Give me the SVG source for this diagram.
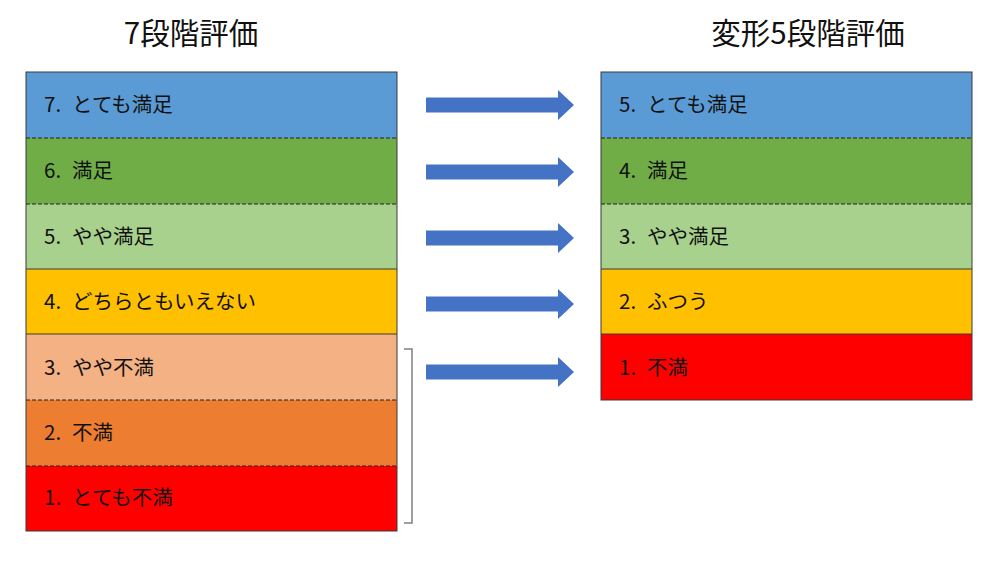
<svg xmlns="http://www.w3.org/2000/svg" width="1000" height="563" viewBox="0 0 1000 563">
<style>
.t{font-family:"Noto Sans CJK JP","Noto Sans",sans-serif;font-size:20.5px;fill:#111}
.h{font-family:"Noto Sans CJK JP","Noto Sans",sans-serif;font-size:29.5px;fill:#111}
.s{stroke:#3a3a3a;stroke-width:1}
.d{stroke:#222;stroke-width:1;stroke-dasharray:4 2}
.a{fill:#4472C4}
</style>
<defs>
<path id="arr" d="M0,-7.5 H132 V-15 L148,0 L132,15 V7.5 H0 Z"/>
</defs>
<rect width="1000" height="563" fill="#fff"/>
<text class="h" x="191" y="44" text-anchor="middle">7段階評価</text>
<text class="h" x="808" y="44" text-anchor="middle">変形5段階評価</text>

<g id="left7">
<g id="l7"><rect x="26" y="72" width="371" height="66" fill="#5B9BD5"/><text class="t" x="44" y="112">7. <tspan x="72">とても満足</tspan></text></g>
<g id="l6"><rect x="26" y="138" width="371" height="66" fill="#70AD47"/><text class="t" x="44" y="178">6. <tspan x="72">満足</tspan></text></g>
<g id="l5"><rect x="26" y="204" width="371" height="65" fill="#A9D18E"/><text class="t" x="44" y="244">5. <tspan x="72">やや満足</tspan></text></g>
<g id="l4"><rect x="26" y="269" width="371" height="65" fill="#FFC000"/><text class="t" x="44" y="309">4. <tspan x="72">どちらともいえない</tspan></text></g>
<g id="l3"><rect x="26" y="334" width="371" height="66" fill="#F4B183"/><text class="t" x="44" y="375">3. <tspan x="72">やや不満</tspan></text></g>
<g id="l2"><rect x="26" y="400" width="371" height="66" fill="#ED7D31"/><text class="t" x="44" y="440">2. <tspan x="72">不満</tspan></text></g>
<g id="l1"><rect x="26" y="466" width="371" height="65" fill="#FF0000"/><text class="t" x="44" y="505">1. <tspan x="72">とても不満</tspan></text></g>
<rect x="26" y="72" width="371" height="459" fill="none" class="s"/>
<line x1="26" y1="138" x2="397" y2="138" class="d"/>
<line x1="26" y1="204" x2="397" y2="204" class="d"/>
<line x1="26" y1="269" x2="397" y2="269" class="s"/>
<line x1="26" y1="334" x2="397" y2="334" class="s"/>
<line x1="26" y1="400" x2="397" y2="400" class="d"/>
<line x1="26" y1="466" x2="397" y2="466" class="d"/>
</g>

<g id="right5">
<g id="r5"><rect x="601" y="72" width="371" height="66" fill="#5B9BD5"/><text class="t" x="619" y="112">5. <tspan x="647">とても満足</tspan></text></g>
<g id="r4"><rect x="601" y="138" width="371" height="66" fill="#70AD47"/><text class="t" x="619" y="178">4. <tspan x="647">満足</tspan></text></g>
<g id="r3"><rect x="601" y="204" width="371" height="65" fill="#A9D18E"/><text class="t" x="619" y="244">3. <tspan x="647">やや満足</tspan></text></g>
<g id="r2"><rect x="601" y="269" width="371" height="65" fill="#FFC000"/><text class="t" x="619" y="309">2. <tspan x="647">ふつう</tspan></text></g>
<g id="r1"><rect x="601" y="334" width="371" height="66" fill="#FF0000"/><text class="t" x="619" y="375">1. <tspan x="647">不満</tspan></text></g>
<rect x="601" y="72" width="371" height="328" fill="none" class="s"/>
<line x1="601" y1="138" x2="972" y2="138" class="d"/>
<line x1="601" y1="204" x2="972" y2="204" class="d"/>
<line x1="601" y1="269" x2="972" y2="269" class="s"/>
<line x1="601" y1="334" x2="972" y2="334" class="s"/>
</g>

<g id="connectors">
<use href="#arr" class="a" x="426" y="105"/>
<use href="#arr" class="a" x="426" y="172"/>
<use href="#arr" class="a" x="426" y="238"/>
<use href="#arr" class="a" x="426" y="304"/>
<use href="#arr" class="a" x="426" y="372"/>
<path d="M404,349 H412 V523 H404" fill="none" stroke="#808080" stroke-width="1.5"/>
</g>
</svg>
